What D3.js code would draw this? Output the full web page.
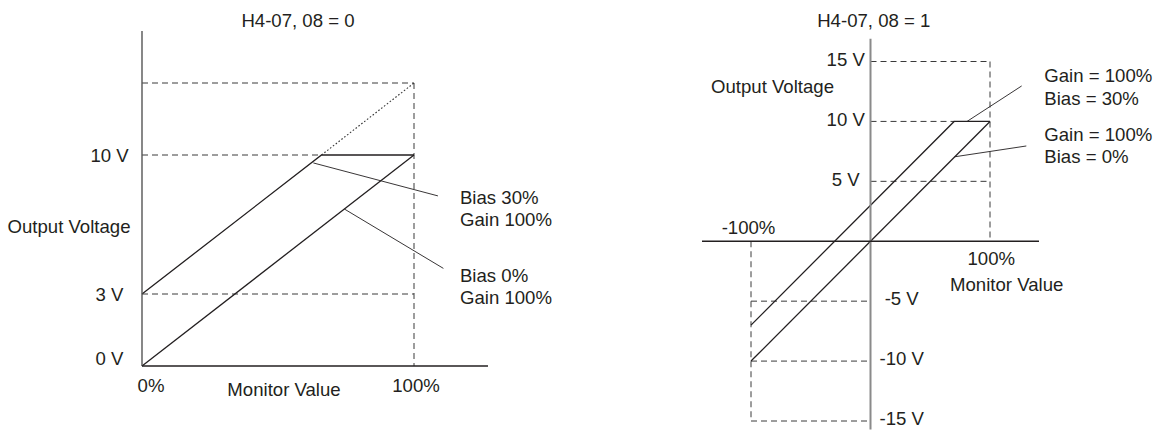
<!DOCTYPE html>
<html><head><meta charset="utf-8">
<script src="https://cdn.jsdelivr.net/npm/d3@7"></script>
<style>
html,body{margin:0;padding:0;background:#fff;}
svg{display:block;}
svg text, svg tspan{font-family:"Liberation Sans",Arial,Helvetica,sans-serif !important;font-size:18.6px !important;fill:#231f20 !important;}
</style></head><body>
<svg id="chart" width="1160" height="430"></svg>
<script>
// ---------- Data: left panel (H4-07, 08 = 0) ----------
const leftTitle = "H4-07, 08 = 0";
const leftXName = "Monitor Value";
const leftYName = "Output Voltage";
const leftXTickValues = [0, 1];
const leftXTickLabels = ["0%", "100%"];
const leftYTickValues = [0, 3, 10];
const leftYTickLabels = ["0 V", "3 V", "10 V"];
const leftBias0 = [[0, 0], [1, 10]];
const leftBias30 = [[0, 3], [0.66, 10], [1, 10]];
const leftBias30Unlimited = [[0.66, 10], [1, 13]];
const leftGuides = [
  [[0, 13], [1, 13]],
  [[1, 13], [1, 0]],
  [[0, 10], [0.66, 10]],
  [[0, 3], [1, 3]]
];
const leftNotes = [
  { lines: ["Bias 30%", "Gain 100%"], from: [0.63, 9.6], to: [1.088, 7.94], at: [1.169, 7.53] },
  { lines: ["Bias 0%", "Gain 100%"], from: [0.744, 7.28], to: [1.108, 4.29], at: [1.169, 3.6] }
];
const leftAxisExtentX = [0, 1.272];
const leftAxisExtentY = [0, 15.17];

// ---------- Data: right panel (H4-07, 08 = 1) ----------
const rightTitle = "H4-07, 08 = 1";
const rightXName = "Monitor Value";
const rightYName = "Output Voltage";
const rightXTickValues = [-1, 1];
const rightXTickLabels = ["-100%", "100%"];
const rightYTickValues = [15, 10, 5, -5, -10, -15];
const rightYTickLabels = ["15 V", "10 V", "5 V", "-5 V", "-10 V", "-15 V"];
const rightBias0 = [[-1, -10], [1, 10]];
const rightBias30 = [[-1, -7], [0.7, 10], [1, 10]];
const rightGuides = [
  [[0, 15], [1, 15]],
  [[1, 15], [1, 0]],
  [[0, 10], [0.7, 10]],
  [[0, 5], [1, 5]],
  [[-1, 0], [-1, -15]],
  [[-1, -5], [0, -5]],
  [[-1, -10], [0, -10]],
  [[-1, -15], [0, -15]]
];
const rightNotes = [
  { lines: ["Gain = 100%", "Bias = 30%"], from: [0.808, 10], to: [1.265, 12.96], at: [1.4545, 13.27] },
  { lines: ["Gain = 100%", "Bias = 0%"], from: [0.705, 7.05], to: [1.304, 7.95], at: [1.4545, 8.39] }
];
const rightAxisExtentX = [-1.41, 1.41];
const rightAxisExtentY = [-15.7, 16.9];

// ---------- Drawing ----------
const ink = "#231f20";
const svg = d3.select("#chart");

function cleanAxis(a) {
  a.select(".domain").remove();
  a.attr("font-size", null).attr("font-family", null);
  a.selectAll("text").attr("fill", ink);
}

function drawCommon(g, x, y, guides, series, notes, lineGap) {
  const line = d3.line().x(d => x(d[0])).y(d => y(d[1]));
  g.selectAll("path.guide").data(guides).join("path")
    .attr("class", "guide").attr("d", line)
    .attr("fill", "none").attr("stroke", "#3a3a3a")
    .attr("stroke-width", 1).attr("stroke-dasharray", "6,4");
  g.selectAll("path.series").data(series).join("path")
    .attr("class", "series").attr("d", line)
    .attr("fill", "none").attr("stroke", ink)
    .attr("stroke-width", 1.3).attr("stroke-linejoin", "miter");
  g.selectAll("path.leader").data(notes).join("path")
    .attr("class", "leader").attr("d", d => line([d.from, d.to]))
    .attr("fill", "none").attr("stroke", ink).attr("stroke-width", 0.9);
  const t = g.selectAll("text.note").data(notes).join("text")
    .attr("class", "note")
    .attr("x", d => x(d.at[0])).attr("y", d => y(d.at[1]));
  t.selectAll("tspan").data(d => d.lines.map(s => ({ s, x: x(d.at[0]) }))).join("tspan")
    .attr("x", d => d.x).attr("dy", (d, i) => i === 0 ? 0 : lineGap).text(d => d.s);
}

// Left panel
(function () {
  const x = d3.scaleLinear().domain([0, 1]).range([142, 414]);
  const y = d3.scaleLinear().domain([0, 3, 10, 13]).range([366, 294, 155, 83]);
  const g = svg.append("g");

  drawCommon(g, x, y, leftGuides, [leftBias0, leftBias30], leftNotes, 22);

  const line = d3.line().x(d => x(d[0])).y(d => y(d[1]));
  g.append("path").attr("d", line(leftBias30Unlimited))
    .attr("fill", "none").attr("stroke", "#333").attr("stroke-width", 1.1)
    .attr("stroke-dasharray", "1.6,2");

  g.append("line").attr("x1", x(0)).attr("x2", x(0))
    .attr("y1", y(leftAxisExtentY[0])).attr("y2", y(leftAxisExtentY[1]))
    .attr("stroke", "#555").attr("stroke-width", 1.4);
  g.append("line").attr("x1", x(leftAxisExtentX[0])).attr("x2", x(leftAxisExtentX[1]))
    .attr("y1", y(0)).attr("y2", y(0))
    .attr("stroke", ink).attr("stroke-width", 1.3);

  const ay = g.append("g").attr("transform", `translate(${x(0)},0)`)
    .call(d3.axisLeft(y).tickValues(leftYTickValues)
      .tickFormat((d, i) => leftYTickLabels[i]).tickSize(0));
  cleanAxis(ay);
  ay.selectAll("text").attr("text-anchor", "middle").attr("x", -32.5)
    .attr("dy", null).attr("y", d => d === 0 ? -1.7 : 6.8);

  const ax = g.append("g").attr("transform", `translate(0,${y(0)})`)
    .call(d3.axisBottom(x).tickValues(leftXTickValues)
      .tickFormat((d, i) => leftXTickLabels[i]).tickSize(0));
  cleanAxis(ax);
  ax.selectAll("text").attr("text-anchor", "middle")
    .attr("x", (d, i) => i === 0 ? 8.5 : 1.5).attr("dy", null).attr("y", 26);

  g.append("text").attr("x", 298).attr("y", 26.5).attr("text-anchor", "middle").text(leftTitle);
  g.append("text").attr("x", 7.5).attr("y", 232.5).text(leftYName);
  g.append("text").attr("x", 284).attr("y", 396).attr("text-anchor", "middle").text(leftXName);
})();

// Right panel
(function () {
  const x = d3.scaleLinear().domain([-1, 1]).range([751, 990]);
  const y = d3.scaleLinear().domain([-15, 15]).range([421, 61.5]);
  const g = svg.append("g");

  drawCommon(g, x, y, rightGuides, [rightBias0, rightBias30], rightNotes, 22.5);

  g.append("line").attr("x1", x(0)).attr("x2", x(0))
    .attr("y1", y(rightAxisExtentY[0])).attr("y2", y(rightAxisExtentY[1]))
    .attr("stroke", "#8a8a8a").attr("stroke-width", 2);
  g.append("line").attr("x1", x(rightAxisExtentX[0])).attr("x2", x(rightAxisExtentX[1]))
    .attr("y1", y(0)).attr("y2", y(0))
    .attr("stroke", ink).attr("stroke-width", 1.3);

  const posVals = rightYTickValues.filter(v => v > 0);
  const negVals = rightYTickValues.filter(v => v < 0);
  const labelOf = d => rightYTickLabels[rightYTickValues.indexOf(d)];

  const ayp = g.append("g").attr("transform", `translate(${x(0)},0)`)
    .call(d3.axisLeft(y).tickValues(posVals).tickFormat(labelOf).tickSize(0));
  cleanAxis(ayp);
  ayp.selectAll("text").attr("text-anchor", "middle").attr("x", -24.8)
    .attr("dy", null).attr("y", 4.4);

  const ayn = g.append("g").attr("transform", `translate(${x(0)},0)`)
    .call(d3.axisRight(y).tickValues(negVals).tickFormat(labelOf).tickSize(0));
  cleanAxis(ayn);
  ayn.selectAll("text").attr("text-anchor", "middle").attr("x", 31.2)
    .attr("dy", null).attr("y", 3);

  const axn = g.append("g").attr("transform", `translate(0,${y(0)})`)
    .call(d3.axisTop(x).tickValues([rightXTickValues[0]])
      .tickFormat(() => rightXTickLabels[0]).tickSize(0));
  cleanAxis(axn);
  axn.selectAll("text").attr("text-anchor", "middle").attr("x", -3)
    .attr("dy", null).attr("y", -7);

  const axp = g.append("g").attr("transform", `translate(0,${y(0)})`)
    .call(d3.axisBottom(x).tickValues([rightXTickValues[1]])
      .tickFormat(() => rightXTickLabels[1]).tickSize(0));
  cleanAxis(axp);
  axp.selectAll("text").attr("text-anchor", "middle").attr("x", 0.8)
    .attr("dy", null).attr("y", 24);

  g.append("text").attr("x", 873.8).attr("y", 26.5).attr("text-anchor", "middle").text(rightTitle);
  g.append("text").attr("x", 711).attr("y", 93.3).text(rightYName);
  g.append("text").attr("x", 1006.7).attr("y", 290.5).attr("text-anchor", "middle").text(rightXName);
})();
</script>
</body></html>
